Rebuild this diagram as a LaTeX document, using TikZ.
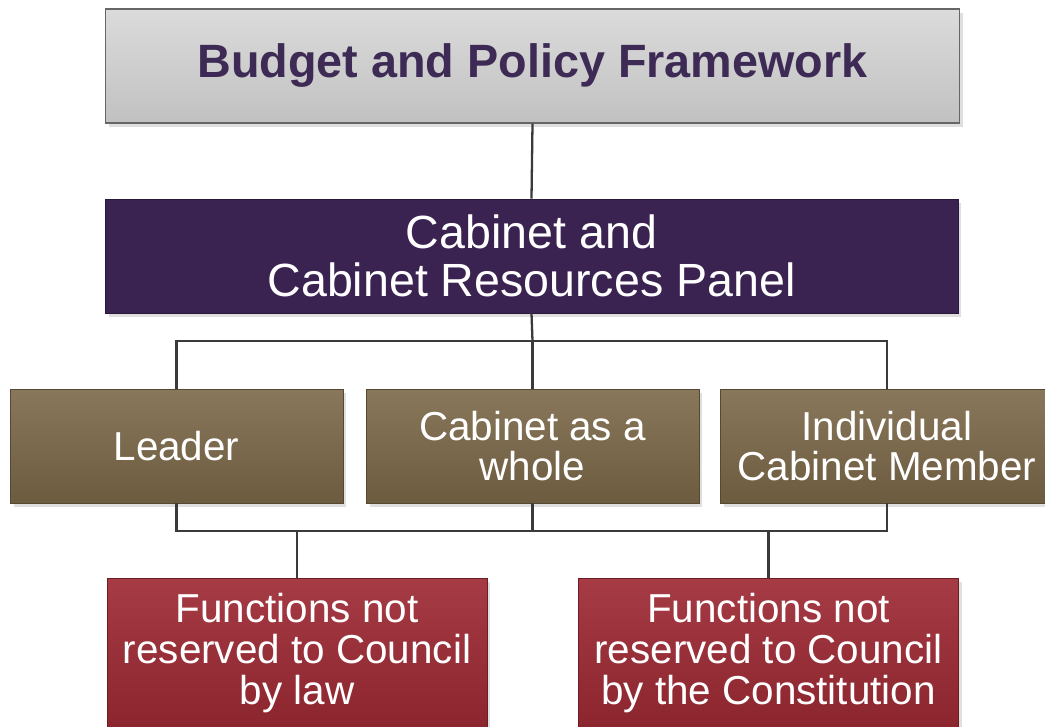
\documentclass[tikz,border=0pt]{standalone}
\usepackage{fontspec}
\setmainfont{Liberation Sans}
\usetikzlibrary{shadows}

\definecolor{framegray}{HTML}{D2D2D2}
\definecolor{titlepurple}{HTML}{3D2A55}
\definecolor{cabpurple}{HTML}{3A2351}
\definecolor{roleolive}{HTML}{7B6848}
\definecolor{funcred}{HTML}{9E2A34}
\definecolor{linkgray}{HTML}{3A3A3A}

\tikzset{
  box/.style={rectangle, inner sep=0pt, align=center,
    drop shadow={opacity=0.25, shadow xshift=2pt, shadow yshift=-2pt}},
  framebox/.style={box, draw=gray!80!black, line width=0.6pt,
    top color=framegray!80!white, bottom color=framegray!92!black,
    text=titlepurple, font=\bfseries\fontsize{26.6}{30}\selectfont,
    minimum width=17.1cm, minimum height=2.28cm},
  cabbox/.style={box, draw=cabpurple!70!black, fill=cabpurple, text=white,
    font=\fontsize{26.5}{27.5}\selectfont,
    minimum width=17.06cm, minimum height=2.28cm},
  rolebox/.style={box, draw=roleolive!70!black,
    top color=roleolive!90!white, bottom color=roleolive!88!black, text=white,
    font=\fontsize{23}{23}\selectfont,
    minimum width=6.66cm, minimum height=2.28cm},
  funcbox/.style={box, draw=funcred!70!black,
    top color=funcred!92!white, bottom color=funcred!88!black, text=white,
    font=\fontsize{23}{23.4}\selectfont,
    minimum width=7.6cm, minimum height=3cm},
  link/.style={draw=linkgray, line width=1.3pt}
}

\begin{document}
\begin{tikzpicture}[x=0.02cm,y=-0.02cm]
\useasboundingbox (0,0) rectangle (1045,727);

%framework and cabinet
\node[framebox] (frame) at (532.5,66) {Budget and Policy Framework};
\node[cabbox] (cab) at (531.5,256) {Cabinet and\\Cabinet Resources Panel};

%who takes the decisions
\node[rolebox] (leader) at (176.5,446) {Leader};
\node[rolebox] (whole) at (532.5,446) {Cabinet as a\\whole};
\node[rolebox] (member) at (887,446) {Individual\\Cabinet Member};

%functions
\node[funcbox] (law) at (297,653) {Functions not\\reserved to Council\\by law};
\node[funcbox] (constit) at (768.5,653) {Functions not\\reserved to Council\\by the Constitution};

%branch points
\coordinate (upper) at (532.5,341);
\coordinate (lower) at (532.5,531);

%connectors
\draw[link] (frame.south) -- (cab.north);
\draw[link] (cab.south) -- (upper);
\draw[link] (leader.north) |- (upper) -| (member.north);
\draw[link] (upper) -- (whole.north);
\draw[link] (leader.south) |- (lower) -| (member.south);
\draw[link] (whole.south) -- (lower);
\draw[link] (law.north) -- (law.north |- lower);
\draw[link] (constit.north) -- (constit.north |- lower);
\end{tikzpicture}
\end{document}
